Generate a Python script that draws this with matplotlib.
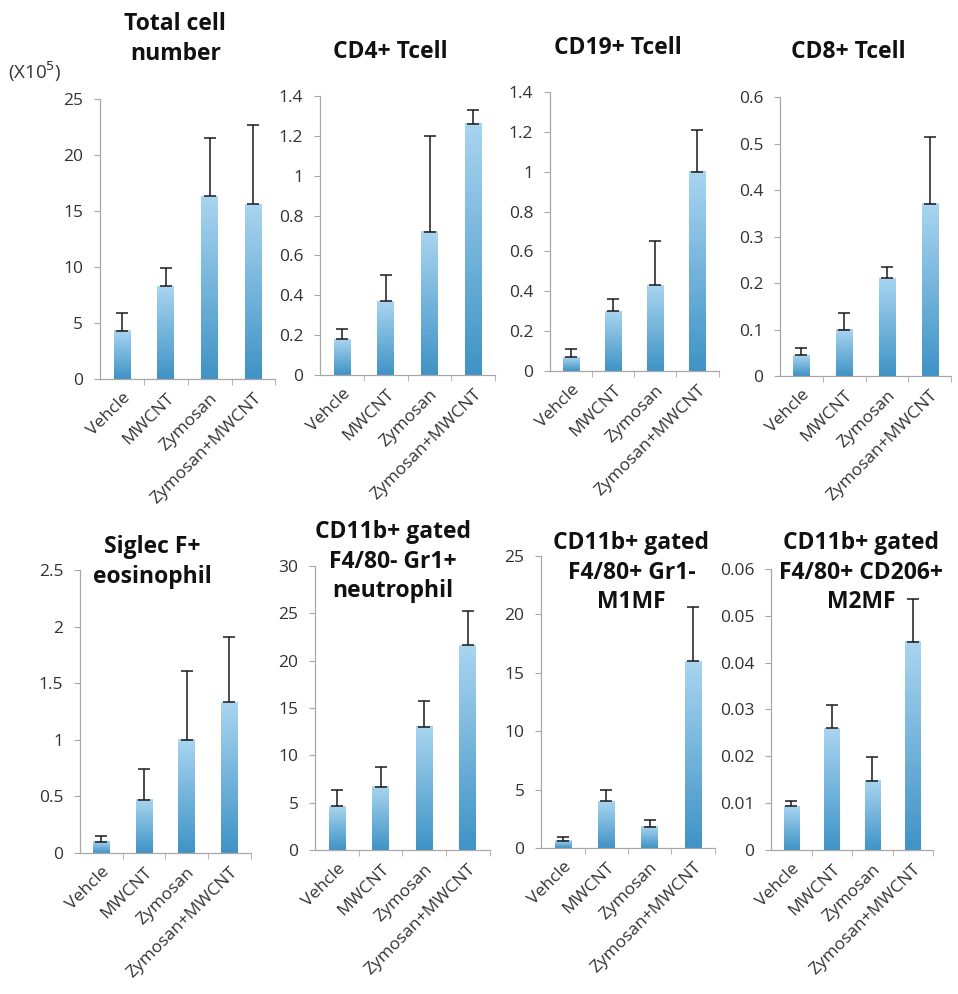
import numpy as np
import matplotlib
matplotlib.use("Agg")
import matplotlib.pyplot as plt
from matplotlib.colors import LinearSegmentedColormap

plt.rcParams['font.family'] = ['Open Sans', 'DejaVu Sans']

groups = ["Vehcle", "MWCNT", "Zymosan", "Zymosan+MWCNT"]

total_mean = [4.3, 8.3, 16.3, 15.6]
total_err = [1.6, 1.6, 5.2, 7.1]
cd4_mean = [0.18, 0.37, 0.72, 1.26]
cd4_err = [0.05, 0.13, 0.48, 0.07]
cd19_mean = [0.07, 0.30, 0.43, 1.00]
cd19_err = [0.04, 0.06, 0.22, 0.21]
cd8_mean = [0.045, 0.10, 0.21, 0.37]
cd8_err = [0.015, 0.035, 0.025, 0.145]
eos_mean = [0.10, 0.47, 1.00, 1.33]
eos_err = [0.05, 0.27, 0.61, 0.58]
neu_mean = [4.6, 6.7, 13.0, 21.6]
neu_err = [1.7, 2.1, 2.7, 3.6]
m1_mean = [0.6, 4.0, 1.8, 16.0]
m1_err = [0.3, 1.0, 0.6, 4.6]
m2_mean = [0.0093, 0.026, 0.0148, 0.0445]
m2_err = [0.0012, 0.005, 0.005, 0.009]

panels = [
    dict(mean=total_mean, err=total_err, ymax=25, step=5,
         rect=[0.1044, 0.6187, 0.183, 0.2817],
         title="Total cell\nnumber", tpos=(0.183, 0.988)),
    dict(mean=cd4_mean, err=cd4_err, ymax=1.4, step=0.2,
         rect=[0.334, 0.6227, 0.183, 0.2807],
         title="CD4+ Tcell", tpos=(0.407, 0.960)),
    dict(mean=cd19_mean, err=cd19_err, ymax=1.4, step=0.2,
         rect=[0.574, 0.6268, 0.176, 0.2806],
         title="CD19+ Tcell", tpos=(0.645, 0.964)),
    dict(mean=cd8_mean, err=cd8_err, ymax=0.6, step=0.1,
         rect=[0.814, 0.6217, 0.179, 0.2807],
         title="CD8+ Tcell", tpos=(0.885, 0.960)),
    dict(mean=eos_mean, err=eos_err, ymax=2.5, step=0.5,
         rect=[0.0835, 0.1419, 0.178, 0.2847],
         title="Siglec F+\neosinophil", tpos=(0.159, 0.462)),
    dict(mean=neu_mean, err=neu_err, ymax=30, step=5,
         rect=[0.329, 0.1449, 0.182, 0.2857],
         title="CD11b+ gated\nF4/80- Gr1+\nneutrophil", tpos=(0.41, 0.477)),
    dict(mean=m1_mean, err=m1_err, ymax=25, step=5,
         rect=[0.565, 0.1469, 0.181, 0.2937],
         title="CD11b+ gated\nF4/80+ Gr1-\nM1MF", tpos=(0.659, 0.466)),
    dict(mean=m2_mean, err=m2_err, ymax=0.06, step=0.01,
         rect=[0.805, 0.1449, 0.169, 0.2827],
         title="CD11b+ gated\nF4/80+ CD206+\nM2MF", tpos=(0.899, 0.466)),
]

bar_cmap = LinearSegmentedColormap.from_list("bar", ["#3f93c6", "#a9d5f0"])
grad = np.linspace(0, 1, 256).reshape(-1, 1)
axis_gray = "#a8a8a8"
bar_w = 0.38

fig = plt.figure(figsize=(9.58, 9.94), dpi=100)

for p in panels:
    ax = fig.add_axes(p["rect"])
    x = np.arange(len(groups))
    ymax = p["ymax"]
    for xi, m, e in zip(x, p["mean"], p["err"]):
        ax.imshow(grad, extent=[xi - bar_w / 2, xi + bar_w / 2, 0, m],
                  origin="lower", cmap=bar_cmap, aspect="auto",
                  interpolation="bilinear", zorder=2)
        ax.errorbar([xi], [m], yerr=[[0], [e]], fmt="none", ecolor="#1a1a1a",
                    elinewidth=1.1, capsize=4, capthick=1.1, zorder=3)
    ax.set_xlim(-0.5, len(groups) - 0.5)
    ax.set_ylim(0, ymax)
    ticks = np.round(np.arange(0, ymax + p["step"] / 2, p["step"]), 4)
    ax.set_yticks(ticks)
    ax.set_yticklabels(["{:g}".format(t) for t in ticks])
    ax.set_xticks(x)
    ax.set_xticklabels(groups, rotation=45, ha="right", rotation_mode="anchor",
                       fontsize=12.5, color="#333333")
    ax.set_xticks(np.arange(0.5, len(groups), 1.0), minor=True)
    ax.tick_params(axis="x", which="major", length=0, pad=8)
    ax.tick_params(axis="x", which="minor", length=4, color=axis_gray, direction="out")
    ax.tick_params(axis="y", length=4, color=axis_gray, direction="out",
                   labelsize=12.5, labelcolor="#333333", pad=8)
    for s in ("top", "right"):
        ax.spines[s].set_visible(False)
    for s in ("left", "bottom"):
        ax.spines[s].set_color(axis_gray)
        ax.spines[s].set_linewidth(0.9)
    ax.patch.set_alpha(0)
    fig.text(p["tpos"][0], p["tpos"][1], p["title"], ha="center", va="top",
             fontsize=16.5, fontweight="bold", linespacing=1.32, color="#111111")

fig.text(0.008, 0.928, "(X10$^5$)", fontsize=13.5, color="#333333", va="center")

fig.savefig("out.png", dpi=100, facecolor="white")
